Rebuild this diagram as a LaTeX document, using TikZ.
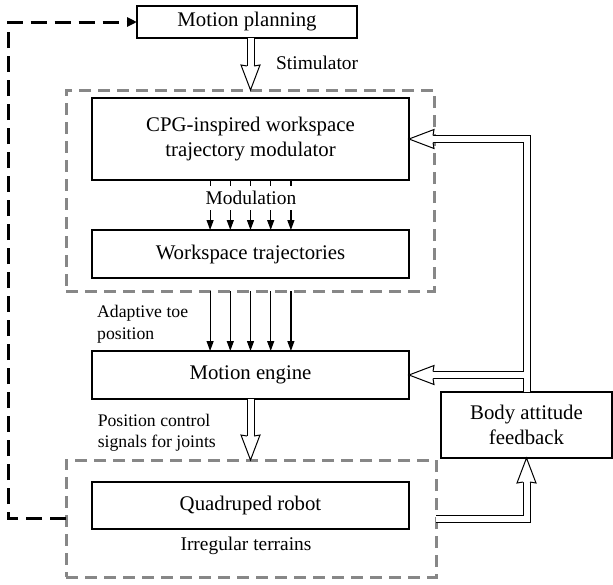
\documentclass[tikz,border=0pt]{standalone}
\usepackage{fontspec}
\setmainfont{Liberation Serif}
\usetikzlibrary{arrows.meta,calc}
\newcommand\mainfs{\fontsize{20.8}{25}\selectfont}
\newcommand\lblfs{\fontsize{19.4}{22}\selectfont}
\newcommand\slblfs{\fontsize{17.7}{21.5}\selectfont}
\newcommand\hollowhead[2]{\draw[headst, shift={(#1)}, rotate=#2] (-24,3.5) -- (-25,9.5) -- (0,0) -- (-25,-9.5) -- (-24,-3.5);}
\begin{document}
\begin{tikzpicture}[x=1pt,y=-1pt,
  box/.style={draw, line width=1.4pt, fill=white, inner sep=0pt, outer sep=0pt, align=center, font=\mainfs},
  gbox/.style={draw=black!47, dash pattern=on 12pt off 7pt, line width=3pt, inner sep=0pt, outer sep=0pt},
  lbl/.style={font=\lblfs, align=left, inner sep=0pt},
  slbl/.style={font=\slblfs, align=left, inner sep=0pt},
  dbl/.style={double, double distance=6pt, line width=1pt, line join=miter},
  headst/.style={draw, fill=white, line width=1pt, line join=miter},
  sarrow/.style={line width=1.2pt, -{Triangle[length=10pt,width=7pt]}},
  loopst/.style={line width=3pt, dash pattern=on 16pt off 8pt, line join=miter, -{Triangle[length=10pt,width=9pt]}}]
\useasboundingbox (0,0) rectangle (613,584);
% grouping boxes
\node[gbox, minimum width=368pt, minimum height=201pt] (ud) at (250,190.5) {};
\node[gbox, minimum width=370pt, minimum height=117pt] (ld) at (251,518.5) {};
% blocks
\node[box, minimum width=220pt, minimum height=32pt] (mp) at (247,22) {Motion planning};
\node[box, minimum width=317pt, minimum height=82pt] (cpg) at (250.5,139) {CPG-inspired workspace\\trajectory modulator};
\node[box, minimum width=317pt, minimum height=48pt] (ws) at (250.5,254) {Workspace trajectories};
\node[box, minimum width=317pt, minimum height=48pt] (me) at (250.5,375) {Motion engine};
\node[box, minimum width=317pt, minimum height=47pt] (qr) at (250.5,505.5) {Quadruped robot};
\node[box, minimum width=171pt, minimum height=66pt] (body) at (526.5,425) {Body attitude\\feedback};
% labels
\node[lbl, anchor=west] (stim) at (276,63) {Stimulator};
\node[slbl, anchor=west] (adapt) at (97,324) {Adaptive toe\\position};
\node[slbl, anchor=west] (pos) at (97.6,433) {Position control\\signals for joints};
\node[lbl] (irr) at (246,546) {Irregular terrains};
% single arrows
\foreach \dx in {-40.4,-20.2,0,20.2,40.4} {
  \draw[sarrow] ($(cpg.south)+(\dx,0)$) -- ($(ws.north)+(\dx,0)$);
  \draw[sarrow] ($(cpg.south |- ud.south)+(\dx,0)$) -- ($(me.north)+(\dx,0)$);
}
\node[lbl, fill=white, inner xsep=2pt, inner ysep=5pt] (mod) at (251,198) {Modulation};
% dashed loop
\draw[loopst] (ld.west) -| ($(mp.west)+(-128.5,0)$) -- (mp.west);
% double-line arrows
\draw[dbl] (mp.south -| cpg.north) -- ($(cpg.north |- ud.north)+(0,-24)$);
\hollowhead{cpg.north |- ud.north}{-90}
\draw[dbl] (me.south) -- ($(me.south |- ld.north)+(0,-24)$);
\hollowhead{me.south |- ld.north}{-90}
\draw[dbl] (body.north) |- ($(cpg.east)+(24,0)$);
\draw[dbl] ($(body.north |- me.east)+(-3,0)$) -- ($(me.east)+(24,0)$);
\hollowhead{cpg.east}{180}
\hollowhead{me.east}{180}
\draw[dbl] (ld.east) -| ($(body.south)+(0,24)$);
\hollowhead{body.south}{90}
\end{tikzpicture}
\end{document}
